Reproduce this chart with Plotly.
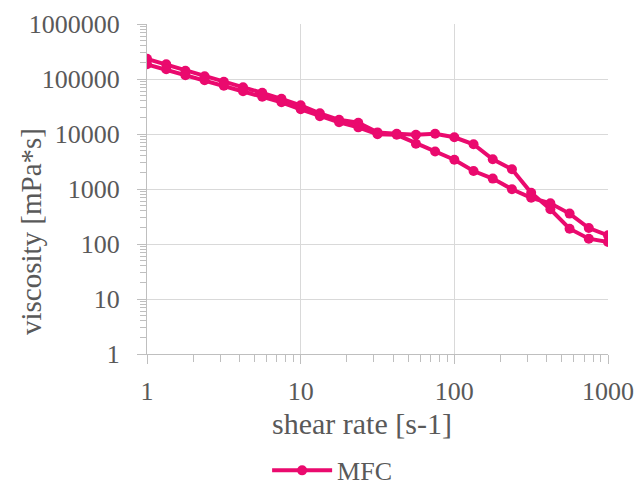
import plotly.graph_objects as go

# Shear rates: 8 points per decade, 1 to 1000 s-1
shear_rate = [round(10 ** (k / 8), 3) for k in range(25)]

# Viscosity [mPa*s], ramp up (1 -> 1000 s-1)
visc_up = [233000, 185000, 141000, 112000, 89000, 70600, 56100, 43600, 33200,
           23800, 18100, 16000, 10700, 10100, 9670, 10100, 8710, 6500, 3470,
           2280, 853, 428, 190, 125, 109]
# Viscosity [mPa*s], ramp down (values listed from 1 to 1000 s-1)
visc_down = [185000, 150000, 117000, 94700, 75200, 59700, 47500, 37700, 28100,
             21000, 16300, 13200, 9880, 9670, 6640, 4790, 3400, 2120, 1545,
             990, 692, 550, 357, 195, 144]

x_ticks = [1, 10, 100, 1000]
x_tick_text = ["1", "10", "100", "1000"]
y_ticks = [1, 10, 100, 1000, 10000, 100000, 1000000]
y_tick_text = ["1", "10", "100", "1000", "10000", "100000", "1000000"]

series_name = "MFC"
x_title = "shear rate [s-1]"
y_title = "viscosity [mPa*s]"

pink = "#EA0A6E"
grey_text = "#595959"
grid = "#D9D9D9"
axis_col = "#BFBFBF"
font_family = "Liberation Serif, Times New Roman, serif"

# Up-ramp followed by the down-ramp, drawn as one continuous loop
x_all = shear_rate + shear_rate[::-1]
y_all = visc_up + visc_down[::-1]

fig = go.Figure()
fig.add_trace(go.Scatter(
    x=x_all, y=y_all, name=series_name, mode="lines+markers",
    line=dict(color=pink, width=4),
    marker=dict(color=pink, size=10),
    showlegend=True,
))

fig.update_layout(
    width=636, height=486,
    margin=dict(l=147, r=28, t=24, b=132),
    paper_bgcolor="white", plot_bgcolor="white",
    font=dict(family=font_family, size=26, color=grey_text),
    showlegend=True,
    legend=dict(orientation="h", xref="container", yref="container",
                x=0.42, y=0.032, xanchor="left", yanchor="middle",
                itemwidth=60,
                font=dict(size=26, color=grey_text),
                bgcolor="rgba(0,0,0,0)"),
    xaxis=dict(
        type="log", range=[0, 3], automargin=False,
        tickvals=x_ticks, ticktext=x_tick_text,
        showgrid=True, gridcolor=grid, gridwidth=1,
        showline=True, linecolor=axis_col, linewidth=1,
        ticks="outside", ticklen=9, tickcolor=axis_col,
        minor=dict(ticks="outside", ticklen=7, tickcolor=axis_col,
                   dtick="D1", showgrid=False),
        tickfont=dict(size=26, color=grey_text),
        ticklabelstandoff=5,
        zeroline=False,
    ),
    yaxis=dict(
        type="log", range=[0, 6], automargin=False,
        tickvals=y_ticks, ticktext=y_tick_text,
        showgrid=True, gridcolor=grid, gridwidth=1,
        showline=True, linecolor=axis_col, linewidth=1,
        ticks="outside", ticklen=9, tickcolor=axis_col,
        minor=dict(ticks="outside", ticklen=6, tickcolor=axis_col,
                   dtick="D1", showgrid=False),
        tickfont=dict(size=26, color=grey_text),
        ticklabelstandoff=12,
        zeroline=False,
    ),
    annotations=[
        dict(text=x_title, xref="paper", yref="paper", x=0.466, y=-0.21,
             xanchor="center", yanchor="middle", showarrow=False,
             font=dict(size=30, color=grey_text)),
        dict(text=y_title, xref="paper", yref="paper", x=-0.252, y=0.372,
             xanchor="center", yanchor="middle", showarrow=False, textangle=-90,
             font=dict(size=29, color=grey_text)),
    ],
)

fig.write_html("out.html")
